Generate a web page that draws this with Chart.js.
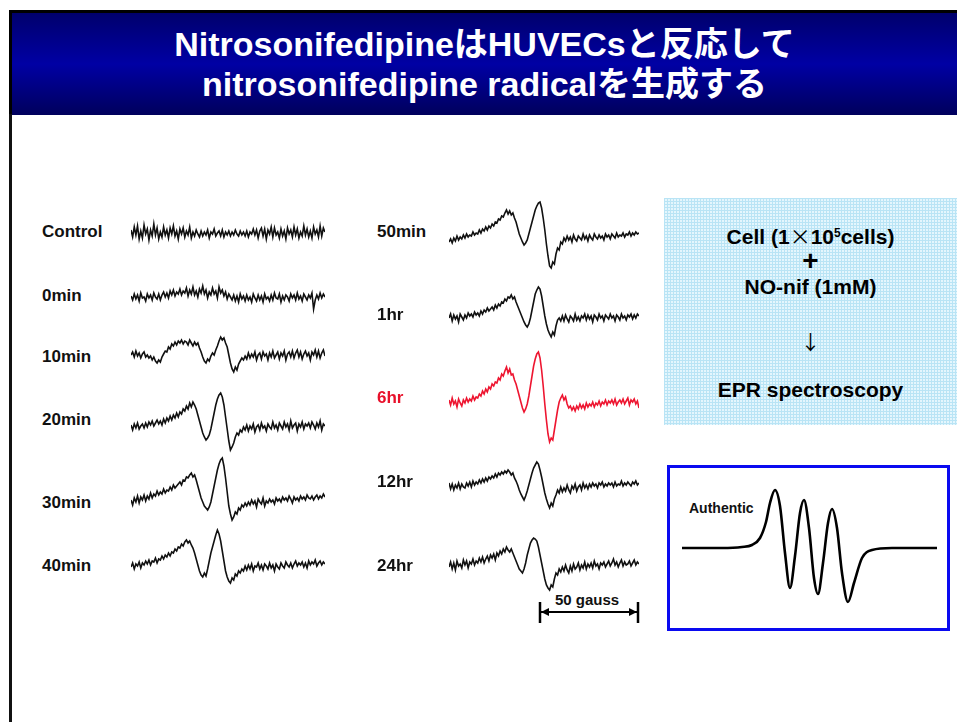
<!DOCTYPE html>
<html>
<head>
<meta charset="utf-8">
<script src="https://cdn.jsdelivr.net/npm/chart.js"></script>
<style>
  body { margin: 0; width: 957px; height: 722px; background: #fff; position: relative; overflow: hidden;
         font-family: "Liberation Sans", Arial, "Noto Sans CJK JP", sans-serif; }
  #title { position: absolute; left: 9px; top: 10px; width: 948px; height: 105px;
           border-top: 3px solid #000; border-left: 3px solid #000; box-sizing: border-box;
           background: linear-gradient(to bottom, #00006c 0%, #0000a4 50%, #00005c 100%);
           color: #fff; font-weight: bold; font-size: 34px; line-height: 40px; text-align: center;
           padding-top: 11px; }
  #leftline { position: absolute; left: 9px; top: 114px; width: 3px; height: 610px; background: #111; }
  .lbl { position: absolute; font-weight: bold; font-size: 17px; color: #111; line-height: 20px; }
  canvas { position: absolute; }
  #proto { position: absolute; left: 664px; top: 198px; width: 293px; height: 227px;
           background-color: #e4f6fd;
           background-image: linear-gradient(#b9e4f5 1px, transparent 1px), linear-gradient(90deg, #b9e4f5 1px, transparent 1px);
           background-size: 3px 3px; }
  .pt { position: absolute; left: 664px; width: 293px; text-align: center; font-weight: bold; color: #000;
        font-size: 21px; line-height: 24px; height: 24px; }
  #authbox { position: absolute; left: 667px; top: 465px; width: 283px; height: 166px;
             border: 3px solid #0a0af0; box-sizing: border-box; }
</style>
</head>
<body>
<div id="title">NitrosonifedipineはHUVECsと反応して<br>nitrosonifedipine radicalを生成する</div>
<div id="leftline"></div>

<div id="proto"></div>
<div class="pt" style="top:225px;">Cell (1<span style="font-family:'Noto Sans CJK JP';font-weight:normal;line-height:0">×</span>10<sup style="font-size:12px;vertical-align:7px;line-height:0">5</sup>cells)</div>
<div class="pt" style="top:249px;font-size:28px;">+</div>
<div class="pt" style="top:275px;">NO-nif (1mM)</div>
<div class="pt" style="top:330px;font-size:20px;font-weight:normal;font-family:'Noto Sans CJK JP';">↓</div>
<div class="pt" style="top:378px;">EPR spectroscopy</div>

<div id="authbox"></div>
<div class="lbl" style="left:689px;top:498px;font-size:14px;">Authentic</div>

<div class="lbl" style="left:555px;top:590px;font-size:15px;">50 gauss</div>
<svg style="position:absolute;left:535px;top:598px" width="110" height="28">
  <line x1="5" y1="14" x2="103" y2="14" stroke="#000" stroke-width="2"/>
  <line x1="5" y1="4" x2="5" y2="25" stroke="#000" stroke-width="2.5"/>
  <line x1="103" y1="4" x2="103" y2="25" stroke="#000" stroke-width="2.5"/>
  <polygon points="6,14 14,10 14,18" fill="#000"/>
  <polygon points="102,14 94,10 94,18" fill="#000"/>
</svg>

<script>
// trace labels
const leftLabels = ['Control', '0min', '10min', '20min', '30min', '40min'];
const rightLabels = ['50min', '1hr', '6hr', '12hr', '24hr'];

// EPR signal (relative intensity), 120 points across the sweep
const control = [3,-4,6,-2,7,-6,2,-5,8,-1, 4,-7,3,-3,9,-2,5,-6,1,-4, 6,-2,3,-5,5,-1,7,-3,2,-6,
  4,-1,5,-4,2,-2,6,-5,1,-3, 3,-1,-4,2,-3,1,-2,3,-5,1, -1,4,-3,0,2,-3,3,-4,1,-2,
  2,-3,1,-2,3,-1,-3,2,-2,1, -3,2,-4,1,-1,4,-2,3,-5,2, 5,-3,4,-6,3,-1,6,-4,5,-2,
  1,-5,4,-3,2,-6,5,-1,3,-4, 6,-2,4,-5,1,-3,7,-2,4,-4, 2,-5,6,-1,3,-4,7,-3,5,1];
const min0 = [1,-3,3,-2,2,-4,4,-1,0,-4, 3,-1,2,-3,4,0,-2,3,-3,2, 5,0,4,-1,6,2,7,1,5,3,
  8,2,6,4,9,1,7,3,10,2, 6,0,8,4,11,3,7,-1,5,2, 9,3,6,-1,10,4,7,1,5,-2,
  3,0,-3,2,-4,1,-5,3,-2,1, -4,2,-3,0,-5,3,-1,-4,2,-3, 1,-5,3,-2,0,-4,2,-3,4,-1,
  -2,3,-5,1,-3,2,0,-4,3,-1, 2,-3,4,-2,1,-4,3,0,-3,2, -1,4,-12,-3,2,-2,4,-1,3,0];
const min10 = [0,3,-2,4,-1,2,-3,1,3,-2, 0,-3,-1,-5,-2,-6,-8,-5,-7,-2, 1,4,3,8,6,11,9,13,10,14,
  12,15,11,14,13,10,15,12,9,13, 10,12,7,3,-2,-6,-8,-4,-6,-1, 2,0,5,9,14,18,15,17,12,8,
  0,-8,-14,-17,-12,-15,-9,-6,-3,-5, -1,-4,2,-3,1,-2,3,-5,0,2, -4,3,-1,1,-5,2,-2,4,-3,0,
  3,-4,2,-1,4,-5,1,3,-2,4, -3,2,5,-2,3,-4,1,4,-1,2, -5,3,0,5,-2,4,-3,2,5,-1];
const min20 = [2,-3,3,-1,4,-2,1,3,-1,4, 0,5,2,6,1,4,7,3,6,2, 8,4,9,6,11,7,12,9,14,10,
  15,13,18,16,21,18,24,20,25,22, 18,12,6,0,-6,-10,-13,-11,-8,-2, 6,14,22,28,32,34,30,22,10,-2,
  -14,-23,-20,-16,-10,-6,-8,-3,-5,0, -3,2,-4,1,-2,3,-5,0,2,-3, 4,-1,1,-4,3,0,-2,5,-1,2,
  -3,4,1,-2,5,0,3,-3,6,-1, 2,4,-4,3,0,5,-2,3,1,4, -1,5,2,-2,4,0,6,-3,3,1];
const min30 = [2,-3,4,0,6,-1,5,2,7,1, 6,3,9,4,8,6,11,7,10,8, 13,9,12,11,15,12,17,14,16,18,
  20,17,22,21,25,24,27,29,25,27, 22,16,10,4,0,-4,-6,-8,-5,0, 8,16,24,32,38,42,44,36,24,10,
  -4,-12,-18,-15,-10,-12,-6,-8,-3,-5, -1,-4,0,-3,2,-2,1,-5,3,0, -2,4,-4,1,-1,3,0,2,-2,4,
  1,3,0,5,2,4,1,6,3,-1, 5,2,4,1,6,3,5,2,7,4, 3,6,2,5,7,3,6,4,8,5];
const min40 = [0,4,-2,3,1,5,-1,4,2,6, 3,7,2,6,5,9,4,8,7,11, 8,12,10,14,11,15,14,18,16,20,
  19,23,21,25,27,24,26,22,19,14, 8,2,-4,-8,-10,-6,-9,-2,6,14, 20,26,32,37,33,26,16,6,-4,-10,
  -14,-16,-11,-13,-7,-9,-4,-6,-2,-4, 1,-3,2,-2,3,-4,1,0,4,-2, 2,-3,3,1,-2,4,-1,2,-4,3,
  0,-2,4,1,-1,5,2,0,4,-1, 3,6,1,4,2,5,0,4,-1,6, 2,5,3,7,1,4,6,2,5,3];
const min50 = [-4,-1,-5,0,-3,2,-2,1,-1,3, 0,4,1,3,2,6,3,5,4,8, 5,9,7,11,8,12,10,14,12,16,
  15,19,18,22,21,25,28,24,27,23, 25,20,16,10,4,0,-4,-7,-5,-2, 4,10,16,22,28,32,35,36,30,20,
  8,-6,-18,-28,-30,-24,-26,-16,-10,-12, -4,-6,0,-3,2,-2,1,-4,3,-1, -3,2,0,-2,4,-1,2,-3,3,0,
  -2,4,1,-1,3,0,2,-2,4,1, 3,-1,4,2,0,5,1,3,2,5, 1,4,3,6,2,5,3,6,4,5];
const hr1 = [0,4,-3,3,-1,2,-4,4,1,-2, 3,0,5,2,4,1,6,3,5,2, 7,4,8,6,10,7,9,11,8,13,
  10,14,12,16,15,19,17,21,20,23, 19,21,16,12,8,4,0,-4,-7,-9, -6,0,8,16,24,28,31,29,22,12,
  2,-6,-12,-16,-19,-14,-17,-8,-2,0, -3,2,-3,3,-1,-4,2,0,-3,4, -2,1,-3,2,0,4,-2,3,-1,2,
  -4,3,1,-2,4,0,2,-3,3,1, -1,4,0,2,-3,3,1,-2,4,0, 2,-2,3,1,4,-1,3,0,4,2];
const hr6 = [4,-1,6,0,3,-3,5,1,-2,4, 1,6,2,5,3,8,4,7,6,10, 8,13,10,15,12,17,15,20,18,22,
  21,26,24,30,28,33,37,31,35,29, 30,24,20,14,8,2,-4,-8,-5,0, 8,18,28,38,45,50,52,46,34,18,
  0,-16,-30,-38,-34,-36,-26,-16,-6,2, 6,9,4,7,0,-4,-2,-6,-3,-7, -2,-5,0,-4,-1,-5,1,-3,0,-2,
  2,-3,1,-1,3,-2,2,0,4,-1, 3,1,4,0,5,-1,2,4,1,5, 0,3,6,-1,4,2,5,0,3,-4];
const hr12 = [4,-2,3,-3,2,-1,4,-2,3,0, -1,4,1,5,0,6,2,5,3,7, 4,8,5,9,6,10,8,11,9,13,
  10,14,12,15,13,16,14,17,15,12, 14,9,6,2,-3,-7,-10,-13,-9,-4, 2,8,14,19,22,25,23,17,10,2,
  -6,-12,-17,-21,-16,-19,-12,-8,-3,-6, 0,-5,-1,-4,2,-3,-6,1,-2,3, -4,0,2,-3,4,-1,2,-2,3,0,
  4,1,3,-1,4,2,5,0,3,1, 4,2,4,0,5,1,3,2,6,1, 4,2,5,3,1,5,3,6,2,4];
const hr24 = [0,5,-2,4,-3,6,1,3,-1,7, 2,6,-1,5,3,8,2,6,4,9, 5,10,4,8,11,6,12,9,13,7,
  14,11,16,13,18,15,20,17,15,18, 14,10,6,2,-2,-4,-6,-2,4,12, 18,24,27,29,28,26,20,12,4,-4,
  -12,-18,-21,-23,-18,-20,-12,-6,-8,-2, -5,0,-4,2,-3,-6,1,-4,3,-2, 0,4,-3,2,-1,5,-2,3,0,4,
  -1,6,1,3,-2,4,2,5,0,3, 6,1,4,8,2,5,0,4,7,1, 5,2,3,6,1,4,7,2,5,3];

// authentic nitrosonifedipine radical spectrum
const authField = [0,40,60,70,78,84,88,93,98,103,108,113,118,122,127,132,136,141,146,150,155,160,166,172,180,190,210,255];
const authSignal = [0,0,1,3,10,26,45,58,42,-5,-40,-8,35,48,20,-30,-46,-15,25,39,20,-25,-54,-35,-10,-2,0,0];

const leftSeries = [control, min0, min10, min20, min30, min40];
const rightSeries = [min50, hr1, hr6, hr12, hr24];

const leftBase = [233, 297, 355, 427, 502, 567];
const leftLabelY = [222, 286, 347, 410, 493, 556];
const rightBase = [238, 318, 404, 487, 567];
const rightLabelY = [222, 305, 388, 472, 556];

function addCanvas(left, top, w, h) {
  const c = document.createElement('canvas');
  c.width = w; c.height = h;
  c.style.left = left + 'px'; c.style.top = top + 'px';
  document.body.appendChild(c);
  return c.getContext('2d');
}

function addLabel(text, left, top, color) {
  const d = document.createElement('div');
  d.className = 'lbl';
  d.textContent = text;
  d.style.left = left + 'px'; d.style.top = top + 'px';
  if (color) d.style.color = color;
  document.body.appendChild(d);
}

function trace(ctx, data, color) {
  return new Chart(ctx, {
    type: 'line',
    data: {
      labels: data.map((_, i) => i),
      datasets: [{ data: data, borderColor: color, borderWidth: 1.6, pointRadius: 0, tension: 0 }]
    },
    options: {
      responsive: false, animation: false, events: [],
      layout: { padding: 0 },
      plugins: { legend: { display: false }, tooltip: { enabled: false } },
      scales: { x: { display: false }, y: { display: false, min: -55, max: 55 } }
    }
  });
}

leftSeries.forEach((s, i) => {
  addLabel(leftLabels[i], 42, leftLabelY[i]);
  trace(addCanvas(131, leftBase[i] - 55, 194, 110), s, '#111');
});
rightSeries.forEach((s, i) => {
  const red = rightLabels[i] === '6hr';
  addLabel(rightLabels[i], 377, rightLabelY[i], red ? '#e8102a' : null);
  trace(addCanvas(449, rightBase[i] - 55, 190, 110), s, red ? '#ee1530' : '#111');
});

new Chart(addCanvas(682, 483, 255, 130), {
  type: 'line',
  data: {
    datasets: [{
      data: authField.map((x, i) => ({ x: x, y: authSignal[i] })),
      borderColor: '#000', borderWidth: 2.6, pointRadius: 0, cubicInterpolationMode: 'monotone'
    }]
  },
  options: {
    responsive: false, animation: false, events: [],
    layout: { padding: 0 },
    plugins: { legend: { display: false }, tooltip: { enabled: false } },
    scales: { x: { type: 'linear', display: false, min: 0, max: 255 }, y: { display: false, min: -65, max: 65 } }
  }
});
</script>
</body>
</html>
